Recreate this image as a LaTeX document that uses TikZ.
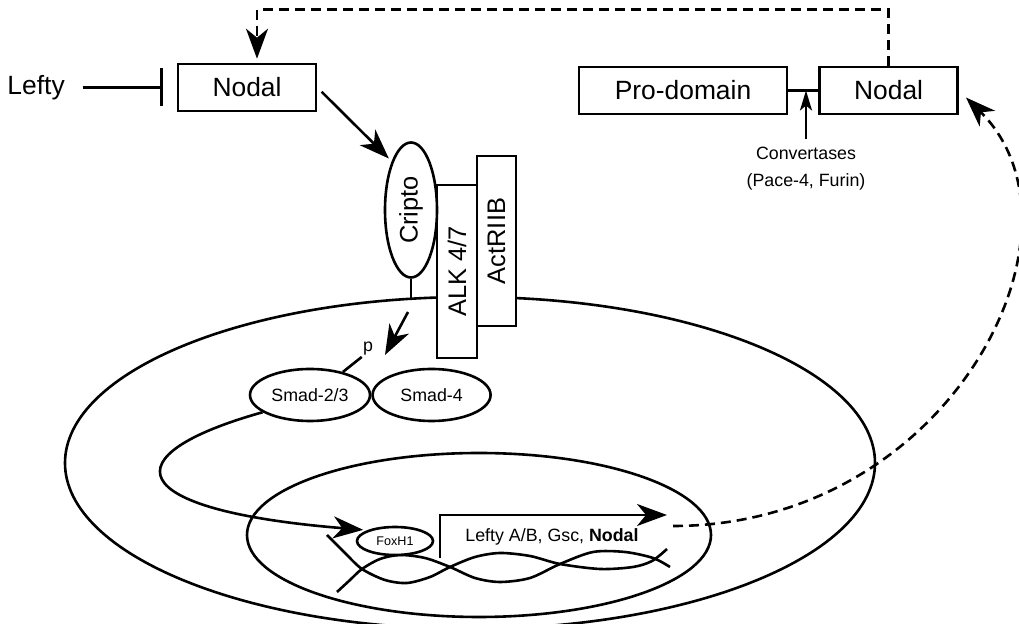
\documentclass[tikz,border=0pt]{standalone}
\usepackage{fontspec}
\setmainfont{Liberation Sans}
\usetikzlibrary{arrows.meta,shapes.geometric,positioning}

\begin{document}
\begin{tikzpicture}[x=0.5pt,y=-0.5pt,line width=1.3pt
	,big/.style={font=\fontsize{13.2}{16}\selectfont}
	,small/.style={font=\fontsize{8.9}{13.5}\selectfont}
	,box/.style={draw,fill=white,inner sep=0,minimum height=23.5pt,big}
	,receptor/.style={draw,fill=white,inner sep=0,rotate=90,font=\fontsize{12.7}{15}\selectfont}
	,blob/.style={ellipse,draw,fill=white,inner sep=0}
	,arr/.style={-{Stealth[length=15pt,width=11pt,inset=4.5pt]}}
	,feedback/.style={dash pattern=on 5pt off 3pt}
]

\useasboundingbox (0,0) rectangle (1019,624);

\node[ellipse,draw,inner sep=0,minimum width=405pt,minimum height=166pt](cell) at(470,463) {};
\node[ellipse,draw,inner sep=0,minimum width=232pt,minimum height=82pt](nucleus) at(479,535) {};

\node[box,minimum width=69pt](nodalL) at(247,87.5) {Nodal};
\node[big,left=52pt of nodalL](lefty) {Lefty};
\node[box,minimum width=104pt](pro) at(683,90.5) {Pro-domain};
\node[box,minimum width=69pt,right=15pt of pro](nodalR) {Nodal};
\node[small,align=center](conv) at(806,169) {Convertases\\(Pace-4, Furin)};

\node[receptor,minimum width=86.5pt,minimum height=20pt](alk) at(457,271.5) {ALK 4/7};
\node[receptor,minimum width=85pt,minimum height=19.5pt](actr) at(496.5,241) {ActRIIB};
\node[blob,rotate=90,minimum width=67.5pt,minimum height=26pt
	,font=\fontsize{12.7}{15}\selectfont](cripto) at(411,210) {Cripto};

\node[blob,small,minimum width=60pt,minimum height=26pt](smad23) at(310,395) {Smad-2/3};
\node[blob,small,minimum width=59pt,minimum height=26pt,right=0pt of smad23](smad4) {Smad-4};
\node[small,inner sep=0](p) at(368,349) {p};

\coordinate(stalk) at(411,298);
\coordinate(kin) at(408,312);
\coordinate(pin) at(385,355);
\coordinate(tss) at(440,558);
\coordinate(tend) at(667,515);
\coordinate(mrna) at(673,526);

\draw plot[smooth] coordinates {(327,535) (345,553) (362,569) (385,580) (407,583) (430,577)
	(450,567) (475,557) (500,553) (530,556) (560,564) (600,569) (633,567) (652,561) (667,549)};
\draw plot[smooth] coordinates {(337,592) (350,580) (362,569) (380,559) (400,555) (425,558)
	(450,567) (475,578) (500,582) (530,578) (560,564) (593,552) (625,552) (653,558) (670,567)};

\node[blob,minimum width=38pt,minimum height=14pt
	,font=\fontsize{6.3}{7}\selectfont](foxh1) at(395,541) {FoxH1};
\node[small](genes) at(552,537) {Lefty A/B, Gsc, \textbf{Nodal}};

\draw[-{Bar[width=19pt]},shorten <=5pt,shorten >=7pt] (lefty) -- (nodalL);
\draw[arr,shorten <=3pt,shorten >=2pt] (nodalL.east) -- (cripto.north east);
\draw (cripto.west) -- (stalk);
\draw (pro) -- (nodalR);
\draw[-{Stealth[length=10pt,width=6pt,inset=2.5pt]}] (conv.north) -- (conv.north |- pro.east);

\draw[arr] (kin) -- (pin);
\draw (smad23.35) -- (p.south west);
\draw[arr,shorten >=2pt] (smad23.200) .. controls (110,455) and (120,510) .. (foxh1.north west);
\draw[arr] (tss) |- (tend);

\draw[arr,feedback,shorten >=5pt] (mrna) .. controls (950,526) and (1100,230) .. (nodalR.east);
\draw[arr,feedback,shorten >=2pt] (nodalR.north) -- ++(0,-56) -| ([xshift=5pt]nodalL.north);

\end{tikzpicture}
\end{document}
